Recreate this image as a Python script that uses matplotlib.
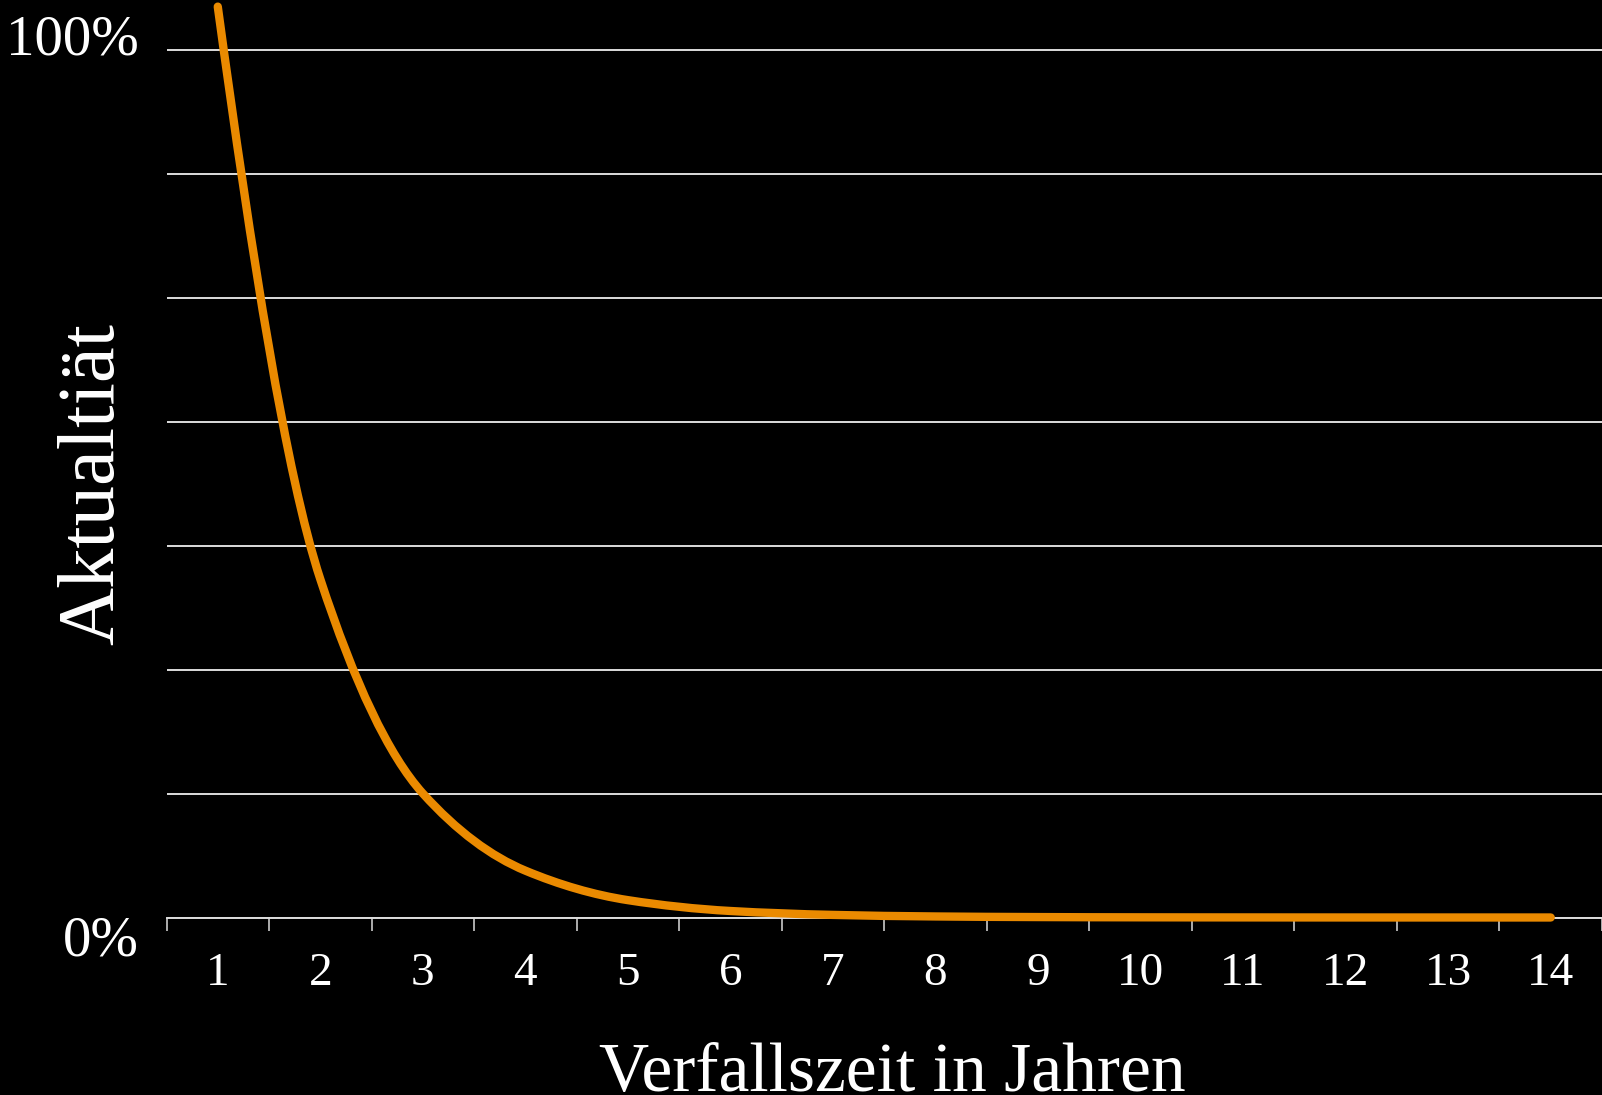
import numpy as np
import matplotlib
matplotlib.use("Agg")
import matplotlib.pyplot as plt
from matplotlib.path import Path
from matplotlib.patches import PathPatch
from matplotlib.transforms import ScaledTranslation

# data (share of "Aktualität" per year)
jahre = [1, 2, 3, 4, 5, 6, 7, 8, 9, 10, 11, 12, 13, 14]
werte = [1.05, 0.39, 0.143, 0.054, 0.020, 0.0075, 0.003, 0.0012,
         0.0005, 0.0002, 0.0001, 0.00004, 0.00002, 0.00001]
gitter = [0, 1/7, 2/7, 3/7, 4/7, 5/7, 6/7, 1]
gitter_labels = ["0%", "", "", "", "", "", "", "100%"]

orange = "#EA8A00"
grid_col = "#dcdcdc"

plt.rcParams["font.family"] = ["Liberation Serif", "DejaVu Serif"]

fig = plt.figure(figsize=(16.02, 10.95), dpi=100, facecolor="black")
ax = fig.add_axes([166.5/1602, 177.5/1095, 1 - 166.5/1602, 917.5/1095])
ax.set_facecolor("black")

ax.set_xlim(0.5, 14.5)
ax.set_ylim(0, 917.5/867.5)

# gridlines
ax.set_yticks(gitter)
ax.set_yticklabels(gitter_labels, fontsize=41, color="white")
ax.tick_params(axis="y", length=0, pad=20)
ax.yaxis.grid(True, color=grid_col, lw=1.4)
ax.set_axisbelow(True)
for lab, dy in zip(ax.get_yticklabels(), [-13, 0, 0, 0, 0, 0, 0, 11]):
    lab.set_transform(lab.get_transform() + ScaledTranslation(0, dy/72, fig.dpi_scale_trans))

# category axis: ticks between categories, labels centred
ax.set_xticks(np.arange(0.5, 15, 1))
ax.set_xticklabels([])
ax.set_xticks(jahre, minor=True)
ax.set_xticklabels([str(j) for j in jahre], minor=True, fontsize=34, color="white")
ax.tick_params(axis="x", which="major", length=9.7, width=1.1, color=grid_col, direction="out")
ax.tick_params(axis="x", which="minor", length=0, pad=25)

for s in ["top", "right", "left"]:
    ax.spines[s].set_visible(False)
ax.spines["bottom"].set_color(grid_col)
ax.spines["bottom"].set_linewidth(1.4)

# smoothed line: Bezier segments through the data points,
# tangents from a monotone (harmonic mean) rule
x = np.array(jahre, dtype=float)
y = np.array(werte, dtype=float)
d = np.diff(y) / np.diff(x)
m = np.zeros_like(y)
for i in range(1, len(y) - 1):
    if d[i - 1] * d[i] > 0:
        m[i] = 2 / (1 / d[i - 1] + 1 / d[i])
m[0] = (3 * d[0] - d[1]) / 2
m[-1] = (3 * d[-1] - d[-2]) / 2
verts = [(x[0], y[0])]
codes = [Path.MOVETO]
for i in range(len(x) - 1):
    h = x[i + 1] - x[i]
    verts += [(x[i] + h / 3, y[i] + m[i] * h / 3),
              (x[i + 1] - h / 3, y[i + 1] - m[i + 1] * h / 3),
              (x[i + 1], y[i + 1])]
    codes += [Path.CURVE4] * 3
kurve = PathPatch(Path(verts, codes), facecolor="none", edgecolor=orange, lw=6.0,
                  capstyle="round", joinstyle="round", zorder=5, clip_on=False)
ax.add_patch(kurve)

ax.set_xlabel("Verfallszeit in Jahren", fontsize=50, color="white")
ax.xaxis.label.set_va("baseline")
ax.xaxis.set_label_coords(0.5057, -(1091 - 917.5)/917.5)
ax.set_ylabel("Aktualtiät", fontsize=58, color="white")
ax.yaxis.set_label_coords((130 - 166.5)/1435.5, 0.473)

fig.savefig("out.png", dpi=100, facecolor="black")
